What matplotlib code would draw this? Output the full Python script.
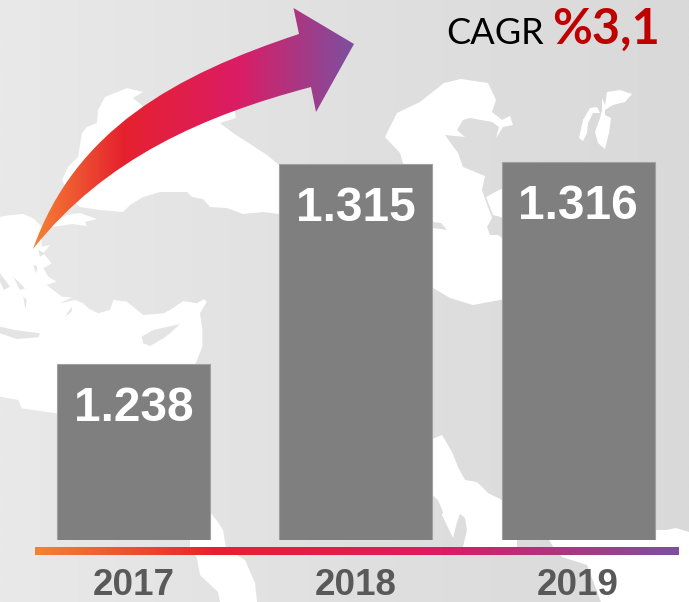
import matplotlib
matplotlib.use("Agg")
import matplotlib.pyplot as plt
import numpy as np
from matplotlib.colors import LinearSegmentedColormap
from matplotlib.patches import PathPatch, Polygon
from matplotlib.path import Path

years = ["2017", "2018", "2019"]
sales = [1238, 1315, 1316]
sales_labels = ["1.238", "1.315", "1.316"]

W, H = 689, 602
SEA = "#ffffff"

sweep = LinearSegmentedColormap.from_list(
    "sweep",
    [(0, "#f58233"), (0.28, "#e6212e"), (0.635, "#dc1c64"), (1, "#7d4f9f")],
)


def crop(pts, x0, y0):
    return [(x / 3 + x0, y / 3 + y0) for x, y in pts]


# background map, pixel coordinates
black_sea = [(105, 97), (127, 88), (143, 92), (133, 98), (150, 112), (234, 108), (236, 118),
             (220, 123), (233, 133), (247, 142), (267, 155), (285, 170), (285, 214), (279, 214),
             (263, 212), (243, 214), (227, 208), (210, 207), (203, 199), (192, 197), (187, 192),
             (160, 192), (143, 197), (130, 205), (123, 212), (100, 210), (80, 207), (72, 200),
             (62, 180), (68, 167), (78, 157), (82, 133), (87, 127), (97, 123), (98, 110)]
aegean = crop([(0, 350), (35, 345), (70, 342), (100, 355), (125, 380), (125, 440), (150, 435),
               (130, 460), (155, 490), (130, 505), (145, 530), (170, 545), (140, 555), (185, 590),
               (215, 592), (180, 610), (225, 600), (250, 610), (265, 625), (295, 640), (330, 630),
               (340, 600), (380, 605), (430, 645), (490, 640), (510, 630), (550, 603), (590, 610),
               (612, 598), (620, 605), (600, 640), (607, 690), (607, 740), (585, 795),
               (585, 1000), (170, 940), (65, 925), (55, 900), (0, 890)], 0, 100)
marmara = [(50, 225), (67, 215), (80, 213), (97, 219), (85, 222), (87, 226), (72, 224), (52, 227)]
caspian = [(385, 137), (397, 113), (420, 102), (444, 83), (461, 79), (488, 83), (496, 100),
           (492, 112), (502, 120), (510, 116), (513, 125), (503, 127), (496, 138), (499, 127),
           (492, 122), (470, 118), (463, 120), (457, 130), (465, 137), (445, 135), (450, 142),
           (458, 153), (463, 167), (485, 176), (482, 190), (488, 207), (492, 218), (487, 227),
           (490, 235), (498, 235), (505, 240), (505, 299), (473, 305), (450, 298), (433, 288),
           (425, 288), (425, 222), (433, 228), (447, 230), (441, 223), (433, 222), (420, 222),
           (400, 153)]
caspian_blob = [(486, 197), (501, 189), (505, 189), (505, 218), (493, 215)]
lake_left = [(590, 108), (597, 107), (600, 113), (593, 113), (588, 123), (587, 133), (583, 141),
             (579, 138), (583, 120)]
lake_right = [(602, 98), (605, 105), (607, 92), (620, 90), (632, 94), (625, 102), (613, 105),
              (605, 110), (605, 115), (611, 118), (609, 133), (605, 149), (598, 143), (595, 132),
              (600, 118), (602, 110)]
red_sea = [(200, 500), (210, 512), (218, 522), (223, 530), (226, 548), (245, 560), (255, 583),
           (257, 602), (220, 602), (218, 592), (200, 575), (197, 558), (190, 548), (190, 500)]
gulf = [(430, 440), (442, 435), (452, 452), (458, 467), (465, 480), (477, 482), (488, 493),
        (502, 500), (517, 500), (517, 547), (463, 547), (467, 530), (465, 518), (460, 514),
        (457, 522), (453, 538), (442, 515), (443, 512), (438, 500), (430, 493)]
arabian = [(640, 530), (655, 530), (666, 530), (676, 528), (689, 532), (689, 602), (601, 602),
           (587, 565), (562, 557), (554, 548), (549, 540), (549, 500), (640, 500)]
seas = [black_sea, aegean, marmara, caspian, caspian_blob, lake_left, lake_right, red_sea, gulf,
        arabian]

cyprus = crop([(425, 710), (460, 690), (540, 672), (510, 700), (490, 715), (450, 738), (430, 730)], 0, 100)
crete = crop([(0, 680), (45, 690), (120, 700), (115, 712), (50, 717), (0, 700)], 0, 100)
rhodes = crop([(195, 650), (215, 620), (215, 635)], 0, 100)
islands = [crop([(0, 520), (30, 560), (12, 570), (0, 545)], 0, 100),
           crop([(40, 530), (75, 565), (60, 570)], 0, 100),
           crop([(100, 495), (112, 500), (108, 520)], 0, 100),
           crop([(70, 590), (80, 600), (76, 630)], 0, 100),
           crop([(115, 450), (135, 460), (120, 470)], 0, 100)]

fig = plt.figure(figsize=(W / 100, H / 100), dpi=100)

bg = fig.add_axes([0, 0, 1, 1], zorder=0)
bg.axis("off")
shade = LinearSegmentedColormap.from_list("shade", ["#e9e9e9", "#e0e0e0", "#d9d9d9"])
bg.imshow(np.linspace(0, 1, 256)[None, :], cmap=shade, extent=(0, W, H, 0), aspect="auto", zorder=0)
for sea in seas:
    bg.add_patch(Polygon(sea, closed=True, fc=SEA, ec="none", zorder=1))
for land in [cyprus, crete, rhodes] + islands:
    bg.add_patch(Polygon(land, closed=True, fc="#e4e4e4", ec="none", zorder=2))

# curved arrow, filled with the gradient through a clip path
arrow_verts = [(33, 249), (75, 130), (175, 75), (299, 34), (293.5, 8), (354, 44), (316, 112),
               (311, 87), (205, 115), (105, 158), (33, 249), (33, 249)]
arrow_codes = [Path.MOVETO, Path.CURVE4, Path.CURVE4, Path.CURVE4, Path.LINETO, Path.LINETO,
               Path.LINETO, Path.LINETO, Path.CURVE4, Path.CURVE4, Path.CURVE4, Path.CLOSEPOLY]
arrow = PathPatch(Path(arrow_verts, arrow_codes), fc="none", ec="none", transform=bg.transData)
bg.add_patch(arrow)
grad = np.linspace(0, 1, 256)[None, :]
im = bg.imshow(grad, cmap=sweep, extent=(33, 354, 249, 8), aspect="auto", zorder=3)
im.set_clip_path(arrow)

# gradient rule under the bars
bg.imshow(grad, cmap=sweep, extent=(35, 679, 555, 547), aspect="auto", zorder=3)
bg.set_xlim(0, W)
bg.set_ylim(H, 0)

# bars
ax = fig.add_axes([0, (H - 540) / H, 1, 540 / H], zorder=1)
ax.patch.set_visible(False)
x = np.arange(len(years))
px_per_x = 222.25
px_per_unit = 2.59
ax.bar(x, sales, width=153 / px_per_x, color="#7f7f7f", edgecolor="#a0a0a0", linewidth=0.8)
ax.set_xlim(-133.5 / px_per_x, (W - 133.5) / px_per_x)
ax.set_ylim(1170, 1170 + 540 / px_per_unit)
ax.set_xticks(x)
ax.set_xticklabels(years, fontsize=26.5, fontweight="bold", color="#595959", family="Liberation Sans")
ax.tick_params(axis="x", length=0, pad=20.5)
ax.set_yticks([])
for s in ax.spines.values():
    s.set_visible(False)

for xi, v, lab in zip(x, sales, sales_labels):
    ax.annotate(lab, (xi, v), xytext=(0, -32), textcoords="offset points", ha="center", va="center",
                fontsize=34.5, fontweight="bold", color="white", family="Liberation Sans")

# CAGR note
fig.text(446 / W, 1 - 44 / H, "CAGR", fontsize=26, color="black", family="Lato", ha="left", va="baseline")
fig.text(552 / W, 1 - 44 / H, "%3,1", fontsize=35, color="#c00000", fontweight="bold", family="Lato",
         ha="left", va="baseline")

fig.savefig("out.png", dpi=100)
plt.close()
